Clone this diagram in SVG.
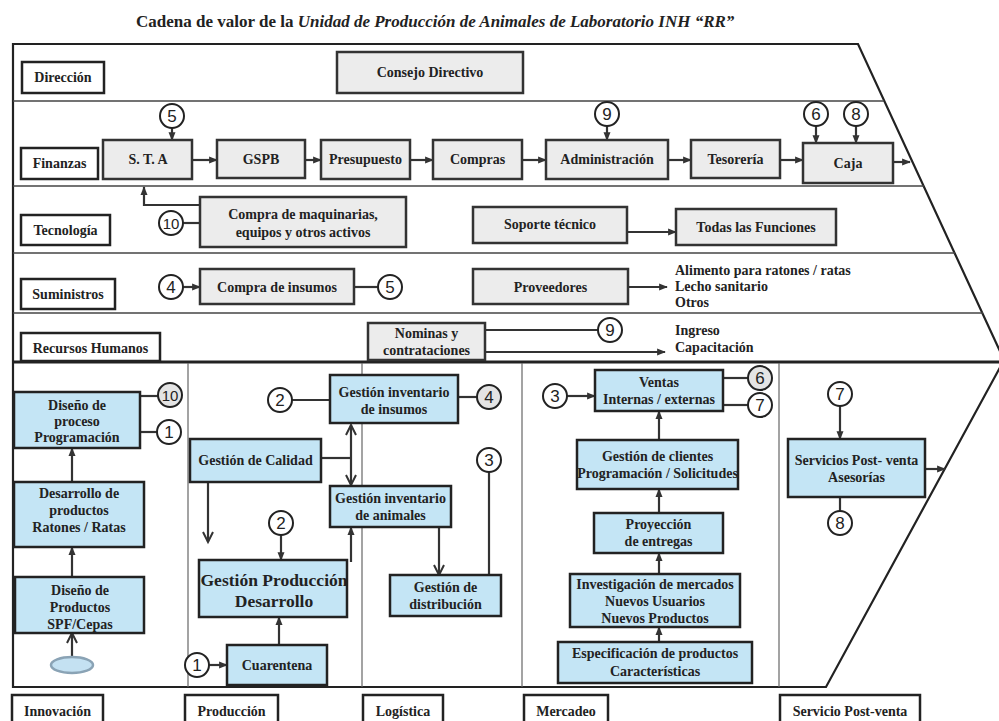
<svg xmlns="http://www.w3.org/2000/svg" width="999" height="721" viewBox="0 0 999 721">
<style>
.bg{fill:#fff}
.lbl{fill:#fff;stroke:#222;stroke-width:2.5}
.sup{fill:#ececec;stroke:#333;stroke-width:2.5}
.pri{fill:#c4e5f5;stroke:#222;stroke-width:2.5}
.t{font-family:"Liberation Serif","Times New Roman",serif;font-weight:bold;font-size:14px;fill:#222;text-anchor:middle}
.tl{font-family:"Liberation Serif","Times New Roman",serif;font-weight:bold;font-size:14px;fill:#222}
.big{font-size:17.5px}
.cw{fill:#fff;stroke:#222;stroke-width:2}
.cg{fill:#e4e4e4;stroke:#222;stroke-width:2}
.n{font-family:"Liberation Sans",Arial,sans-serif;font-size:17px;fill:#222;text-anchor:middle}
.ln{stroke:#333;stroke-width:2.2;fill:none}
.sep{stroke:#444;stroke-width:1.5;fill:none}
.col{stroke:#666;stroke-width:1.2;fill:none}
.frame{stroke:#222;stroke-width:2.2;fill:none}
</style>
<defs>
<marker id="arr" viewBox="0 0 10 8" refX="9" refY="4" markerWidth="9" markerHeight="7" markerUnits="userSpaceOnUse" orient="auto" overflow="visible"><path d="M0,0 L10,4 L0,8 z" fill="#333"/></marker>
<marker id="chev" viewBox="0 0 10 10" refX="10" refY="5" markerWidth="10" markerHeight="10" markerUnits="userSpaceOnUse" orient="auto" overflow="visible"><path d="M0,0 L10,5 L0,10" fill="none" stroke="#333" stroke-width="2"/></marker>
<marker id="chevs" viewBox="0 0 10 10" refX="10" refY="5" markerWidth="10" markerHeight="10" markerUnits="userSpaceOnUse" orient="auto-start-reverse" overflow="visible"><path d="M0,0 L10,5 L0,10" fill="none" stroke="#333" stroke-width="2"/></marker>
</defs>
<rect class="bg" x="0" y="0" width="999" height="721"/>

<text x="136" y="27" style="font-family:'Liberation Serif','Times New Roman',serif;font-weight:bold;font-size:17px;fill:#222">Cadena de valor de la <tspan font-style="italic">Unidad de Producción de Animales de Laboratorio INH “RR”</tspan></text>

<g id="frame">
<path class="frame" d="M13,44 H858 L1004,360 L826,687 H13 Z"/>
<line class="sep" x1="13" y1="101" x2="884" y2="101"/>
<line class="sep" x1="13" y1="186" x2="924" y2="186"/>
<line class="sep" x1="13" y1="253" x2="955" y2="253"/>
<line class="sep" x1="13" y1="313" x2="983" y2="313"/>
<line x1="13" y1="362" x2="1004" y2="362" stroke="#222" stroke-width="3"/>
<line class="col" x1="188" y1="363" x2="188" y2="687"/>
<line class="col" x1="362" y1="363" x2="362" y2="687"/>
<line class="col" x1="522" y1="363" x2="522" y2="687"/>
<line class="col" x1="779" y1="363" x2="779" y2="687"/>
</g>

<g id="connectors">
<line class="ln" x1="172" y1="128" x2="172" y2="140" marker-end="url(#arr)"/>
<line class="ln" x1="192" y1="160" x2="217" y2="160" marker-end="url(#arr)"/>
<line class="ln" x1="305" y1="160" x2="321" y2="160" marker-end="url(#arr)"/>
<line class="ln" x1="410" y1="160" x2="433" y2="160" marker-end="url(#arr)"/>
<line class="ln" x1="522" y1="160" x2="546" y2="160" marker-end="url(#arr)"/>
<line class="ln" x1="668" y1="160" x2="691" y2="160" marker-end="url(#arr)"/>
<line class="ln" x1="780" y1="160" x2="803" y2="160" marker-end="url(#arr)"/>
<line class="ln" x1="893" y1="162" x2="910" y2="162" marker-end="url(#arr)"/>
<line class="ln" x1="607" y1="126" x2="607" y2="140" marker-end="url(#arr)"/>
<line class="ln" x1="816" y1="126" x2="816" y2="143" marker-end="url(#arr)"/>
<line class="ln" x1="856" y1="126" x2="856" y2="143" marker-end="url(#arr)"/>
<path class="ln" d="M200,205 H144 V187" marker-end="url(#arr)"/>
<line class="ln" x1="183" y1="223" x2="200" y2="223"/>
<line class="ln" x1="627" y1="232" x2="676" y2="232" marker-end="url(#arr)"/>
<line class="ln" x1="183" y1="287" x2="200" y2="287" marker-end="url(#arr)"/>
<line class="ln" x1="354" y1="287" x2="378" y2="287"/>
<line class="ln" x1="628" y1="287" x2="667" y2="287" marker-end="url(#arr)"/>
<line class="ln" x1="485" y1="330" x2="598" y2="330"/>
<line class="ln" x1="485" y1="352" x2="665" y2="352" marker-end="url(#arr)"/>

<line class="ln" x1="140" y1="396" x2="158" y2="396"/>
<line class="ln" x1="140" y1="432" x2="157" y2="432"/>
<line class="ln" x1="72" y1="482" x2="72" y2="448" marker-end="url(#arr)"/>
<line class="ln" x1="72" y1="577" x2="72" y2="547" marker-end="url(#arr)"/>
<line class="ln" x1="72" y1="657" x2="72" y2="633" marker-end="url(#chev)"/>
<line class="ln" x1="292" y1="400" x2="330" y2="400"/>
<line class="ln" x1="321" y1="458" x2="351" y2="458"/>
<line class="ln" x1="351" y1="425" x2="351" y2="485" marker-start="url(#chevs)" marker-end="url(#chevs)"/>
<line class="ln" x1="208" y1="482" x2="208" y2="542" marker-end="url(#chev)"/>
<line class="ln" x1="281" y1="535" x2="281" y2="560" marker-end="url(#arr)"/>
<line class="ln" x1="351" y1="562" x2="351" y2="527" marker-end="url(#arr)"/>
<line class="ln" x1="279" y1="645" x2="279" y2="617" marker-end="url(#arr)"/>
<line class="ln" x1="209" y1="665" x2="227" y2="665" marker-end="url(#arr)"/>
<line class="ln" x1="458" y1="397" x2="477" y2="397"/>
<line class="ln" x1="439" y1="527" x2="439" y2="575" marker-end="url(#chev)"/>
<line class="ln" x1="489" y1="472" x2="489" y2="575"/>
<line class="ln" x1="567" y1="396" x2="595" y2="396" marker-end="url(#arr)"/>
<line class="ln" x1="723" y1="378" x2="748" y2="378"/>
<line class="ln" x1="723" y1="405" x2="748" y2="405"/>
<line class="ln" x1="659" y1="440" x2="659" y2="411" marker-end="url(#arr)"/>
<line class="ln" x1="659" y1="513" x2="659" y2="489" marker-end="url(#arr)"/>
<line class="ln" x1="659" y1="574" x2="659" y2="553" marker-end="url(#arr)"/>
<line class="ln" x1="659" y1="642" x2="659" y2="627" marker-end="url(#arr)"/>
<line class="ln" x1="840" y1="406" x2="840" y2="439" marker-end="url(#arr)"/>
<line class="ln" x1="840" y1="497" x2="840" y2="511"/>
<line class="ln" x1="925" y1="469" x2="945" y2="469" marker-end="url(#arr)"/>
</g>

<!-- support labels -->
<g id="n_direccion"><rect class="lbl" x="22" y="62" width="82" height="31"/><text class="t" x="63" y="82">Dirección</text></g>
<g id="n_finanzas"><rect class="lbl" x="21" y="148" width="77" height="31"/><text class="t" x="59.5" y="168">Finanzas</text></g>
<g id="n_tecnologia"><rect class="lbl" x="21" y="215" width="89" height="30"/><text class="t" x="65.5" y="235">Tecnología</text></g>
<g id="n_suministros"><rect class="lbl" x="21" y="279" width="94" height="30"/><text class="t" x="68" y="299">Suministros</text></g>
<g id="n_rrhh"><rect class="lbl" x="21" y="333" width="139" height="28"/><text class="t" x="90.5" y="353">Recursos Humanos</text></g>

<g id="n_consejo"><rect class="sup" x="337" y="52" width="186" height="41"/><text class="t" x="430" y="77">Consejo Directivo</text></g>
<g id="n_sta"><rect class="sup" x="103" y="140" width="89" height="39"/><text class="t" x="148" y="164">S. T. A</text></g>
<g id="n_gspb"><rect class="sup" x="217" y="140" width="88" height="38"/><text class="t" x="261" y="164">GSPB</text></g>
<g id="n_presupuesto"><rect class="sup" x="321" y="140" width="89" height="39"/><text class="t" x="365.5" y="164">Presupuesto</text></g>
<g id="n_compras"><rect class="sup" x="433" y="140" width="89" height="39"/><text class="t" x="477.5" y="164">Compras</text></g>
<g id="n_administracion"><rect class="sup" x="546" y="140" width="122" height="39"/><text class="t" x="607" y="164">Administración</text></g>
<g id="n_tesoreria"><rect class="sup" x="691" y="140" width="89" height="38"/><text class="t" x="735.5" y="164">Tesorería</text></g>
<g id="n_caja"><rect class="sup" x="803" y="143" width="90" height="40"/><text class="t" x="848" y="168">Caja</text></g>
<g id="c_5a"><circle class="cw" cx="172" cy="116" r="12"/><text class="n" x="172" y="122">5</text></g>
<g id="c_9a"><circle class="cw" cx="607" cy="114" r="12"/><text class="n" x="607" y="120">9</text></g>
<g id="c_6a"><circle class="cw" cx="816" cy="114" r="12"/><text class="n" x="816" y="120">6</text></g>
<g id="c_8a"><circle class="cw" cx="856" cy="114" r="12"/><text class="n" x="856" y="120">8</text></g>

<g id="n_maquinarias"><rect class="sup" x="200" y="197" width="206" height="50"/><text class="t" x="303" y="219">Compra de maquinarias,</text><text class="t" x="303" y="237">equipos y otros activos</text></g>
<g id="c_10a"><circle class="cw" cx="171" cy="223" r="12"/><text class="n" x="171" y="229" style="font-size:15px">10</text></g>
<g id="n_soporte"><rect class="sup" x="473" y="207" width="154" height="36"/><text class="t" x="550" y="229">Soporte técnico</text></g>
<g id="n_todas"><rect class="sup" x="676" y="209" width="160" height="36"/><text class="t" x="756" y="232">Todas las Funciones</text></g>

<g id="c_4a"><circle class="cw" cx="171" cy="287" r="12"/><text class="n" x="171" y="293">4</text></g>
<g id="n_compra_insumos"><rect class="sup" x="200" y="269" width="154" height="35"/><text class="t" x="277" y="292">Compra de insumos</text></g>
<g id="c_5b"><circle class="cw" cx="390" cy="287" r="12"/><text class="n" x="390" y="293">5</text></g>
<g id="n_proveedores"><rect class="sup" x="473" y="269" width="155" height="35"/><text class="t" x="550.5" y="292">Proveedores</text></g>
<g id="n_proveedores_list"><text class="tl" x="675" y="275">Alimento para ratones / ratas</text><text class="tl" x="675" y="291">Lecho sanitario</text><text class="tl" x="675" y="307">Otros</text></g>

<g id="n_nominas"><rect class="sup" x="368" y="323" width="117" height="37"/><text class="t" x="426.5" y="338">Nominas y</text><text class="t" x="426.5" y="355">contrataciones</text></g>
<g id="c_9b"><circle class="cw" cx="610" cy="330" r="12"/><text class="n" x="610" y="336">9</text></g>
<g id="n_rrhh_list"><text class="tl" x="675" y="335">Ingreso</text><text class="tl" x="675" y="352">Capacitación</text></g>

<!-- primary: Innovación -->
<g id="n_diseno_proceso"><rect class="pri" x="14" y="392" width="126" height="56"/><text class="t" x="77" y="410">Diseño de</text><text class="t" x="77" y="426">proceso</text><text class="t" x="77" y="442">Programación</text></g>
<g id="c_10b"><circle class="cg" cx="170" cy="395" r="12"/><text class="n" x="170" y="401" style="font-size:15px">10</text></g>
<g id="c_1a"><circle class="cw" cx="169" cy="432" r="12"/><text class="n" x="169" y="438">1</text></g>
<g id="n_desarrollo"><rect class="pri" x="14" y="482" width="130" height="65"/><text class="t" x="79" y="498">Desarrollo de</text><text class="t" x="79" y="515">productos</text><text class="t" x="79" y="532">Ratones / Ratas</text></g>
<g id="n_diseno_productos"><rect class="pri" x="15" y="577" width="129" height="56"/><text class="t" x="80" y="595">Diseño de</text><text class="t" x="80" y="612">Productos</text><text class="t" x="80" y="629">SPF/Cepas</text></g>
<g id="n_ellipse"><ellipse cx="72" cy="665" rx="21" ry="8" fill="#c4e1f2" stroke="#8aa3b5" stroke-width="2.5"/></g>

<!-- Producción -->
<g id="n_calidad"><rect class="pri" x="190" y="439" width="131" height="43"/><text class="t" x="255.5" y="465">Gestión de Calidad</text></g>
<g id="c_2a"><circle class="cw" cx="280" cy="400" r="12"/><text class="n" x="280" y="406">2</text></g>
<g id="c_2b"><circle class="cw" cx="281" cy="523" r="12"/><text class="n" x="281" y="529">2</text></g>
<g id="n_produccion"><rect class="pri" x="199" y="560" width="148" height="57"/><text class="t big" x="274" y="586">Gestión Producción</text><text class="t big" x="274" y="607">Desarrollo</text></g>
<g id="n_cuarentena"><rect class="pri" x="227" y="645" width="100" height="40"/><text class="t" x="277" y="670">Cuarentena</text></g>
<g id="c_1b"><circle class="cw" cx="197" cy="665" r="12"/><text class="n" x="197" y="671">1</text></g>

<!-- Logística -->
<g id="n_inv_insumos"><rect class="pri" x="330" y="375" width="128" height="48"/><text class="t" x="394" y="397">Gestión inventario</text><text class="t" x="394" y="414">de insumos</text></g>
<g id="c_4b"><circle class="cg" cx="489" cy="397" r="12"/><text class="n" x="489" y="403">4</text></g>
<g id="n_inv_animales"><rect class="pri" x="330" y="486" width="121" height="41"/><text class="t" x="390.5" y="503">Gestión inventario</text><text class="t" x="390.5" y="520">de animales</text></g>
<g id="c_3a"><circle class="cw" cx="489" cy="460" r="12"/><text class="n" x="489" y="466">3</text></g>
<g id="n_distribucion"><rect class="pri" x="390" y="575" width="111" height="41"/><text class="t" x="445.5" y="592">Gestión de</text><text class="t" x="445.5" y="609">distribución</text></g>

<!-- Mercadeo -->
<g id="c_3b"><circle class="cw" cx="555" cy="396" r="12"/><text class="n" x="555" y="402">3</text></g>
<g id="n_ventas"><rect class="pri" x="595" y="370" width="128" height="41"/><text class="t" x="659" y="387">Ventas</text><text class="t" x="659" y="404">Internas / externas</text></g>
<g id="c_6b"><circle class="cg" cx="760" cy="378" r="12"/><text class="n" x="760" y="384">6</text></g>
<g id="c_7a"><circle class="cw" cx="760" cy="405" r="12"/><text class="n" x="760" y="411">7</text></g>
<g id="n_clientes"><rect class="pri" x="577" y="440" width="161" height="49"/><text class="t" x="657.5" y="461">Gestión de clientes</text><text class="t" x="657.5" y="478">Programación / Solicitudes</text></g>
<g id="n_proyeccion"><rect class="pri" x="594" y="513" width="129" height="40"/><text class="t" x="658.5" y="529">Proyección</text><text class="t" x="658.5" y="546">de entregas</text></g>
<g id="n_investigacion"><rect class="pri" x="570" y="574" width="170" height="53"/><text class="t" x="655" y="589">Investigación de mercados</text><text class="t" x="655" y="606">Nuevos Usuarios</text><text class="t" x="655" y="623">Nuevos Productos</text></g>
<g id="n_especificacion"><rect class="pri" x="558" y="642" width="194" height="41"/><text class="t" x="655" y="658">Especificación de productos</text><text class="t" x="655" y="676">Características</text></g>

<!-- Servicio Post-venta -->
<g id="c_7b"><circle class="cw" cx="840" cy="394" r="12"/><text class="n" x="840" y="400">7</text></g>
<g id="n_postventa"><rect class="pri" x="788" y="439" width="137" height="58"/><text class="t" x="856.5" y="465">Servicios Post- venta</text><text class="t" x="856.5" y="482">Asesorías</text></g>
<g id="c_8b"><circle class="cw" cx="840" cy="523" r="12"/><text class="n" x="840" y="529">8</text></g>

<!-- bottom labels -->
<g id="n_innovacion"><rect class="lbl" x="12" y="695" width="91" height="40"/><text class="t" x="57.5" y="716">Innovación</text></g>
<g id="n_lbl_produccion"><rect class="lbl" x="185" y="695" width="93" height="40"/><text class="t" x="231.5" y="716">Producción</text></g>
<g id="n_logistica"><rect class="lbl" x="363" y="695" width="80" height="40"/><text class="t" x="403" y="716">Logística</text></g>
<g id="n_mercadeo"><rect class="lbl" x="524" y="695" width="84" height="40"/><text class="t" x="566" y="716">Mercadeo</text></g>
<g id="n_servicio"><rect class="lbl" x="780" y="695" width="140" height="40"/><text class="t" x="850" y="716">Servicio Post-venta</text></g>
</svg>
